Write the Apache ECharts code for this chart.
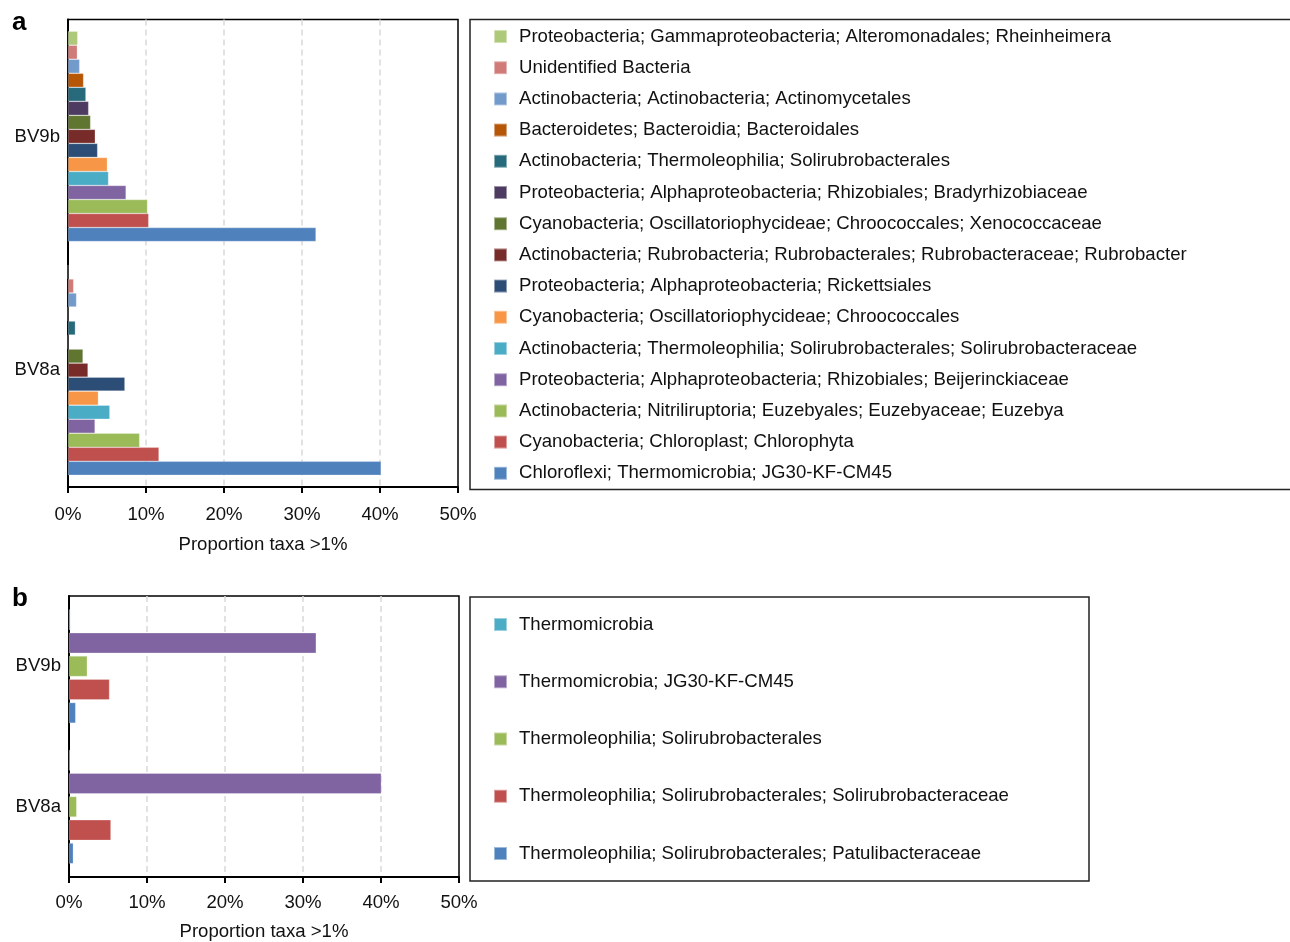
<!DOCTYPE html>
<html>
<head>
<meta charset="utf-8">
<script src="https://cdn.jsdelivr.net/npm/echarts@6/dist/echarts.min.js"></script>
<style>
html,body{margin:0;padding:0;background:#fff;}
#chart{width:1290px;height:942px;}
</style>
</head>
<body>
<div id="chart"></div>
<script>
// ---------- DATA ----------
var samples = ['BV8a', 'BV9b'];           // category axis (bottom -> top)
var xTicks = [0, 10, 20, 30, 40, 50];     // percent

// Panel a: taxa (top -> bottom as in legend)
var taxaA = [
  'Proteobacteria; Gammaproteobacteria; Alteromonadales; Rheinheimera',
  'Unidentified Bacteria',
  'Actinobacteria; Actinobacteria; Actinomycetales',
  'Bacteroidetes; Bacteroidia; Bacteroidales',
  'Actinobacteria; Thermoleophilia; Solirubrobacterales',
  'Proteobacteria; Alphaproteobacteria; Rhizobiales; Bradyrhizobiaceae',
  'Cyanobacteria; Oscillatoriophycideae; Chroococcales; Xenococcaceae',
  'Actinobacteria; Rubrobacteria; Rubrobacterales; Rubrobacteraceae; Rubrobacter',
  'Proteobacteria; Alphaproteobacteria; Rickettsiales',
  'Cyanobacteria; Oscillatoriophycideae; Chroococcales',
  'Actinobacteria; Thermoleophilia; Solirubrobacterales; Solirubrobacteraceae',
  'Proteobacteria; Alphaproteobacteria; Rhizobiales; Beijerinckiaceae',
  'Actinobacteria; Nitriliruptoria; Euzebyales; Euzebyaceae; Euzebya',
  'Cyanobacteria; Chloroplast; Chlorophyta',
  'Chloroflexi; Thermomicrobia; JG30-KF-CM45'
];
var bv9bA = [1.25, 1.2, 1.5, 2.0, 2.3, 2.65, 2.9, 3.5, 3.8, 5.05, 5.2, 7.45, 10.2, 10.35, 31.8];
var bv8aA = [0, 0.73, 1.1, 0, 0.95, 0, 1.93, 2.57, 7.3, 3.9, 5.37, 3.47, 9.19, 11.67, 40.15];

// Panel b
var taxaB = [
  'Thermomicrobia',
  'Thermomicrobia; JG30-KF-CM45',
  'Thermoleophilia; Solirubrobacterales',
  'Thermoleophilia; Solirubrobacterales; Solirubrobacteraceae',
  'Thermoleophilia; Solirubrobacterales; Patulibacteraceae'
];
var bv9bB = [0.18, 31.7, 2.35, 5.2, 0.86];
var bv8aB = [0.15, 40.05, 0.99, 5.38, 0.56];

// ---------- STYLE ----------
var colorsA = ['#afc97a', '#d07b78', '#729aca', '#b65708', '#276a7c', '#4d3b62', '#5f7530',
               '#772c2a', '#2c4d75', '#f79646', '#4bacc6', '#8064a2', '#9bbb59', '#c0504d', '#4f81bd'];
var colorsB = ['#4bacc6', '#8064a2', '#9bbb59', '#c0504d', '#4f81bd'];
var FONT = '"Liberation Sans", Arial, Helvetica, sans-serif';
var FS = 18.6;

function xAxisCfg(gridIndex, labelMargin, nameGap) {
  return {
    type: 'value', gridIndex: gridIndex, min: xTicks[0], max: xTicks[xTicks.length - 1],
    interval: xTicks[1] - xTicks[0],
    name: 'Proportion taxa >1%', nameLocation: 'middle', nameGap: nameGap,
    nameTextStyle: {fontFamily: FONT, fontSize: FS, color: '#111'},
    axisLine: {show: true, lineStyle: {color: '#000', width: 2}},
    axisTick: {show: true, length: 6, lineStyle: {color: '#000', width: 2}},
    axisLabel: {formatter: '{value}%', margin: labelMargin, fontFamily: FONT, fontSize: FS, color: '#111'},
    splitLine: {show: true, showMinLine: false, showMaxLine: false,
                lineStyle: {color: '#d9d9d9', width: 1.5, type: [6, 4]}}
  };
}
function yAxisCfg(gridIndex) {
  return {
    type: 'category', gridIndex: gridIndex, data: samples,
    axisLine: {show: true, lineStyle: {color: '#000', width: 2}},
    axisTick: {show: false},
    axisLabel: {margin: 8, fontFamily: FONT, fontSize: FS, color: '#111', padding: [10, 0, 0, 0]},
    splitLine: {show: false}
  };
}

var series = [];
taxaA.forEach(function (name, i) {
  series.push({
    name: name, type: 'bar', xAxisIndex: 0, yAxisIndex: 0,
    data: [bv8aA[i], bv9bA[i]],
    barGap: '0%', barCategoryGap: '10%',
    itemStyle: {color: colorsA[i], borderColor: 'rgba(255,255,255,0.45)', borderWidth: 0.6},
    emphasis: {disabled: true}
  });
});
taxaB.forEach(function (name, i) {
  series.push({
    name: name, type: 'bar', xAxisIndex: 1, yAxisIndex: 1,
    data: [bv8aB[i], bv9bB[i]],
    barGap: '13%', barCategoryGap: '19%',
    itemStyle: {color: colorsB[i], borderColor: 'rgba(255,255,255,0.45)', borderWidth: 0.6},
    emphasis: {disabled: true}
  });
});

var legendText = {fontFamily: FONT, fontSize: FS, color: '#111', lineHeight: 20, padding: [0, 0, 0, 7]};

var option = {
  animation: false,
  backgroundColor: '#fff',
  title: [
    {text: 'a', left: 7, top: 5, textStyle: {fontFamily: FONT, fontSize: 26, fontWeight: 'bold', color: '#000'}},
    {text: 'b', left: 7, top: 581, textStyle: {fontFamily: FONT, fontSize: 26, fontWeight: 'bold', color: '#000'}}
  ],
  grid: [
    {left: 68, right: 832, top: 19.5, bottom: 455, show: true, borderColor: '#000', borderWidth: 1.5, containLabel: false},
    {left: 69, right: 831, top: 596, bottom: 61, show: true, borderColor: '#000', borderWidth: 1.5, containLabel: false}
  ],
  xAxis: [xAxisCfg(0, 18, 48), xAxisCfg(1, 16, 45)],
  yAxis: [yAxisCfg(0), yAxisCfg(1)],
  legend: [
    {data: taxaA, orient: 'vertical', left: 493, top: 26.5, padding: 0, itemGap: 11.2,
     itemWidth: 13, itemHeight: 13, icon: 'rect', textStyle: legendText, selectedMode: false},
    {data: taxaB, orient: 'vertical', left: 493, top: 614.5, padding: 0, itemGap: 37.25,
     itemWidth: 13, itemHeight: 13, icon: 'rect', textStyle: legendText, selectedMode: false}
  ],
  graphic: [
    {type: 'rect', shape: {x: 470, y: 19.5, width: 830, height: 470}, style: {fill: 'none', stroke: '#222', lineWidth: 1.5}, silent: true},
    {type: 'rect', shape: {x: 470, y: 597, width: 619, height: 284}, style: {fill: 'none', stroke: '#222', lineWidth: 1.5}, silent: true}
  ],
  series: series
};

var chart = echarts.init(document.getElementById('chart'), null, {renderer: 'canvas'});
chart.setOption(option);
</script>
</body>
</html>
